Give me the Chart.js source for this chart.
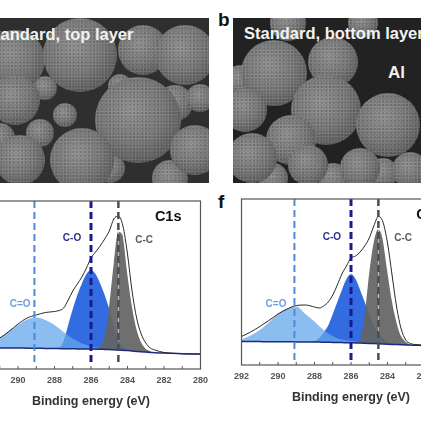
<!DOCTYPE html>
<html>
<head>
<meta charset="utf-8">
<script src="https://cdn.jsdelivr.net/npm/chart.js@4.4.1/dist/chart.umd.min.js"></script>
<style>
  html, body { margin: 0; padding: 0; background: #fff; }
  body { width: 421px; height: 421px; overflow: hidden; position: relative; font-family: "Liberation Sans", Arial, sans-serif; }
  .sem { position: absolute; top: 18px; height: 165px; overflow: hidden; background: #2f2f2f; }
  .ball { position: absolute; border-radius: 50%;
          background:
            radial-gradient(rgba(255,255,255,0.13) 0.7px, transparent 1.3px) 0 0 / 3px 3px,
            radial-gradient(rgba(0,0,0,0.12) 0.8px, transparent 1.4px) 1px 2px / 4px 4px,
            radial-gradient(circle at 42% 38%, #8c8c8c 0%, #747474 45%, #585858 78%, #2c2c2c 100%); }
  .semtext { position: absolute; color: #f2f2f2; font-weight: bold; font-size: 16.5px; line-height: 1; white-space: nowrap; }
  .panel { position: absolute; font-weight: bold; font-size: 19px; line-height: 1; color: #111; }
  canvas { position: absolute; }
</style>
</head>
<body>
<div class="sem" id="semA" style="left:0;width:209px"></div>
<div class="sem" id="semB" style="left:233px;width:188px;background:#222"></div>
<div class="semtext" style="left:-16px;top:26px">Standard, top layer</div>
<div class="semtext" style="left:244px;top:25px">Standard, bottom layer</div>
<div class="semtext" style="left:388px;top:64px;font-size:17px">Al</div>
<div class="panel" style="left:218px;top:10px">b</div>
<div class="panel" style="left:218px;top:192px">f</div>

<canvas id="xpsTop" width="246" height="212" style="left:-32px;top:199px;width:246px;height:212px"></canvas>
<canvas id="xpsBottom" width="246" height="210" style="left:228px;top:197px;width:246px;height:210px"></canvas>

<script>
// binding energies (eV) shared by every curve
const energies = [292, 291.5, 291, 290.5, 290, 289.5, 289, 288.5, 288, 287.75, 287.5, 287.25, 287,
  286.75, 286.5, 286.25, 286, 285.75, 285.5, 285.25, 285, 284.75, 284.5, 284.25, 284, 283.75,
  283.5, 283.25, 283, 282.75, 282.5, 282, 281, 280];

// C1s, standard electrode, top layer (intensity, a.u.)
const topEnvelope = [24, 27.5, 31, 37.5, 45, 51, 54, 56.5, 57.5, 58.5, 61, 69, 78,
  85, 92, 101, 111, 117, 123, 130, 138, 150, 153, 143, 115, 78,
  51, 35, 26, 21, 19, 16.5, 15.3, 15];
const topBackground = [21.5, 21.3, 21, 21, 21, 20.8, 20.7, 20.6, 20.5, 20.4, 20.3, 20.3, 20.2,
  20.1, 20, 20, 20, 19.8, 19.7, 19.6, 19.5, 19.2, 19, 18.7, 18.4, 18,
  17.6, 17.2, 16.9, 16.6, 16.3, 16, 15.3, 15];
const topCC = [21.5, 21.3, 21, 21, 21, 20.8, 20.7, 20.6, 20.5, 20.4, 20.3, 20.3, 20.2,
  20.1, 20, 20, 20.2, 20.5, 22, 34, 64, 106, 138, 135, 99, 66,
  42, 28, 21, 18.5, 17.3, 16.2, 15.3, 15];
const topCO = [21.5, 21.3, 21, 21, 21, 20.8, 20.7, 20.6, 21, 21.5, 28, 44, 60,
  74, 85.5, 95, 99, 95, 85.5, 74, 60, 44, 28, 21.5, 19.5, 18.2,
  17.6, 17.2, 16.9, 16.6, 16.3, 16, 15.3, 15];
const topCdO = [23, 26, 31, 38, 44, 49.5, 51.5, 49, 44, 40.5, 37, 33.5, 30.5,
  28, 25.5, 24, 22.5, 21.5, 21, 20.3, 20, 19.5, 19.2, 18.8, 18.5, 18,
  17.6, 17.2, 16.9, 16.6, 16.3, 16, 15.3, 15];

// C1s, standard electrode, bottom layer (intensity, a.u.)
const bottomEnvelope = [28.5, 33, 38.5, 44.5, 51, 56, 59.5, 60, 58, 57, 59, 63, 70,
  80, 91, 99, 107, 109, 113, 119, 127, 139, 148.5, 143, 122, 90,
  58, 36, 25, 21.5, 20.5, 20, 19.6, 19.5];
const bottomBackground = [23.5, 23.5, 23.4, 23.3, 23.3, 23.2, 23.1, 23, 23, 22.9, 22.8, 22.7, 22.6,
  22.5, 22.4, 22.3, 22.2, 22.1, 22, 21.8, 21.6, 21.4, 21.2, 21, 20.8, 20.6,
  20.4, 20.2, 20, 19.9, 19.8, 19.6, 19.5, 19.5];
const bottomCC = [23.5, 23.5, 23.4, 23.3, 23.3, 23.2, 23.1, 23, 23, 22.9, 22.8, 22.7, 22.6,
  22.5, 22.4, 22.3, 22.5, 23, 25, 50, 92, 123, 136, 128, 97, 67,
  45, 30, 24, 21, 20.3, 19.8, 19.5, 19.5];
const bottomCO = [23.5, 23.5, 23.4, 23.3, 23.3, 23.2, 23.1, 23.2, 24, 26.7, 32.5, 39.5, 51,
  63, 75, 86, 91, 86, 75, 63, 51, 39.5, 32.5, 26.7, 23.5, 21.5,
  20.6, 20.3, 20, 19.9, 19.8, 19.6, 19.5, 19.5];
const bottomCdO = [25.5, 29.5, 35, 42.5, 51, 56.5, 58.5, 51, 43.5, 39, 35, 31.5, 29,
  26.7, 25.5, 24.5, 24, 23.5, 23, 22.5, 22.2, 21.8, 21.5, 21.2, 21, 20.6,
  20.4, 20.2, 20, 19.9, 19.8, 19.6, 19.5, 19.5];

// fitted component positions (eV) and names
const peakCenters = [289.1, 286, 284.5];
const peakNames = ['C=O', 'C-O', 'C-C'];
const tickValues = [292, 290, 288, 286, 284, 282, 280];

Chart.defaults.font.family = '"Liberation Sans", Arial, sans-serif';

const lineStyles = [
  { color: '#4f8ad6', width: 2 },
  { color: '#1a1a8e', width: 3 },
  { color: '#4d4d4d', width: 2.5 }
];
const labelStyles = [
  { color: '#6f9fe0', font: 'bold 10px "Liberation Sans", Arial' },
  { color: '#2d2d8f', font: 'bold 10px "Liberation Sans", Arial' },
  { color: '#5a5a5a', font: 'bold 10px "Liberation Sans", Arial' }
];

const decor = {
  id: 'decor',
  afterDatasetsDraw(chart, args, opts) {
    const { ctx, chartArea: a, scales: { x, y } } = chart;
    ctx.save();
    // dashed lines at the peak positions
    peakCenters.forEach((c, i) => {
      const px = x.getPixelForValue(c);
      ctx.beginPath();
      ctx.setLineDash([7, 4]);
      ctx.strokeStyle = lineStyles[i].color;
      ctx.lineWidth = lineStyles[i].width;
      ctx.moveTo(px, a.top);
      ctx.lineTo(px, a.bottom - 5);
      ctx.stroke();
    });
    ctx.setLineDash([]);
    // component names
    ctx.textBaseline = 'middle';
    ctx.textAlign = 'center';
    opts.labelPos.forEach((p, i) => {
      ctx.fillStyle = labelStyles[i].color;
      ctx.font = labelStyles[i].font;
      ctx.fillText(peakNames[i], x.getPixelForValue(p[0]), y.getPixelForValue(p[1]));
    });
    ctx.textAlign = opts.titleAlign;
    ctx.fillStyle = '#111';
    ctx.font = 'bold 14.5px "Liberation Sans", Arial';
    ctx.fillText('C1s', x.getPixelForValue(opts.titlePos[0]), y.getPixelForValue(opts.titlePos[1]));
    // frame
    ctx.strokeStyle = '#555';
    ctx.lineWidth = 1.2;
    ctx.strokeRect(a.left, a.top, a.width, a.height);
    // inward ticks every 1 eV
    ctx.lineWidth = 1;
    for (let e = 280; e <= 292; e++) {
      const px = x.getPixelForValue(e);
      ctx.beginPath();
      ctx.moveTo(px, a.bottom);
      ctx.lineTo(px, a.bottom - 3);
      ctx.stroke();
    }
    ctx.restore();
  }
};

function makeDatasets(env, bg, cc, co, cdo) {
  const pts = arr => energies.map((e, i) => ({ x: e, y: arr[i] }));
  const base = { pointRadius: 0, cubicInterpolationMode: 'monotone' };
  return [
    { ...base, label: 'Envelope', data: pts(env), borderColor: '#2a2a2a', borderWidth: 1, fill: false },
    { ...base, label: 'Background', data: pts(bg), borderColor: '#1c2a80', borderWidth: 1.5, fill: false },
    { ...base, label: 'C-C', data: pts(cc), borderWidth: 1.5, backgroundColor: 'rgba(100,100,100,0.93)', fill: 1,
      segment: { borderColor: s => s.p0.parsed.x <= 284.5 ? '#ffffff' : 'rgba(255,255,255,0)' } },
    { ...base, label: 'C=O', data: pts(cdo), borderColor: 'rgba(0,0,0,0)', borderWidth: 0,
      backgroundColor: 'rgba(102,167,235,0.75)', fill: 1 },
    { ...base, label: 'C-O', data: pts(co), borderColor: 'rgba(0,0,0,0)', borderWidth: 0,
      backgroundColor: 'rgba(40,100,222,0.95)', fill: 1 }
  ];
}

function makeChart(id, datasets, yMax, decorOpts) {
  new Chart(document.getElementById(id), {
    type: 'line',
    data: { datasets: datasets },
    options: {
      responsive: false,
      animation: false,
      layout: { padding: { left: 12, right: 12, top: 2, bottom: 2 } },
      plugins: { legend: { display: false }, tooltip: { enabled: false }, decor: decorOpts },
      scales: {
        x: {
          type: 'linear', reverse: true, min: 280, max: 292,
          grid: { display: false, drawTicks: false },
          border: { display: false },
          afterBuildTicks: s => { s.ticks = tickValues.map(v => ({ value: v })); },
          ticks: { autoSkip: false, maxRotation: 0, padding: 6, color: '#555',
                   font: { size: 9, weight: 'bold' } },
          title: { display: true, text: 'Binding energy (eV)', color: '#333',
                   font: { size: 12.5, weight: 'bold' }, padding: { top: 4, bottom: 0 } },
          afterFit: s => { s.height = 40; }
        },
        y: { display: false, min: 0, max: yMax }
      }
    },
    plugins: [decor]
  });
}

makeChart('xpsTop', makeDatasets(topEnvelope, topBackground, topCC, topCO, topCdO), 168, {
  labelPos: [[289.88, 65], [287.04, 130.5], [283.09, 129]],
  titlePos: [281.77, 152], titleAlign: 'center'
});
makeChart('xpsBottom', makeDatasets(bottomEnvelope, bottomBackground, bottomCC, bottomCO, bottomCdO), 166, {
  labelPos: [[290.11, 61], [287.05, 128], [283.14, 126.5]],
  titlePos: [282.43, 150], titleAlign: 'left'
});

// SEM micrographs (particle outlines only)
const semA = [[0, 120, 15], [45, 70, 12], [120, 68, 12], [175, 85, 18], [200, 80, 14], [40, 115, 14],
  [110, 150, 15], [170, 160, 18], [15, 42, 30], [80, 37, 37], [143, 32, 25], [185, 37, 30],
  [15, 82, 25], [65, 97, 12], [138, 102, 43], [20, 142, 25], [82, 142, 32], [195, 132, 25]];
const semB = [[55, 5, 18], [130, 5, 15], [150, 155, 15], [100, 160, 15], [40, 160, 15],
  [7, 62, 15], [41, 55, 33], [100, 44, 25], [12, 92, 22], [93, 92, 35], [155, 107, 32],
  [58, 122, 25], [19, 140, 25], [75, 147, 20], [127, 150, 20], [177, 152, 18]];
function drawBalls(id, list) {
  const box = document.getElementById(id);
  list.forEach(([cx, cy, r]) => {
    const d = document.createElement('div');
    d.className = 'ball';
    d.style.left = (cx - r) + 'px';
    d.style.top = (cy - r) + 'px';
    d.style.width = d.style.height = (2 * r) + 'px';
    box.appendChild(d);
  });
}
drawBalls('semA', semA);
drawBalls('semB', semB);
</script>
</body>
</html>
